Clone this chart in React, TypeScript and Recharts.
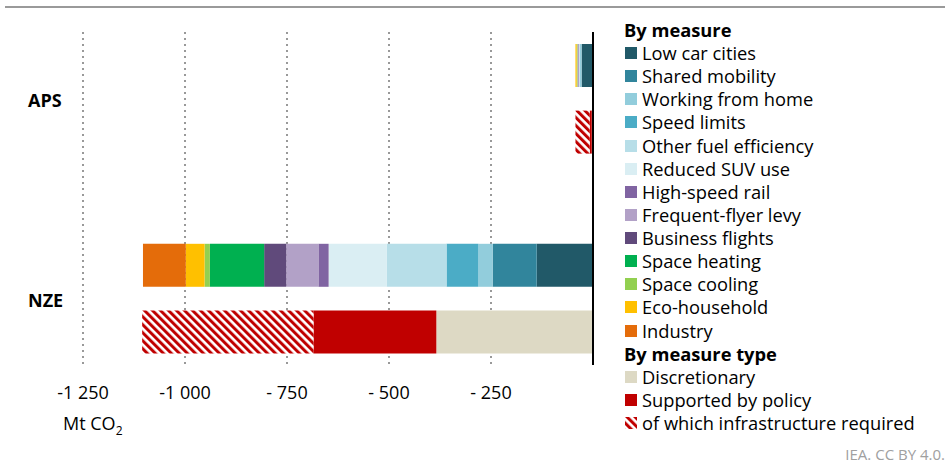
import React from 'react';
import { BarChart, Bar, XAxis, YAxis, CartesianGrid, ReferenceLine } from 'recharts';

const categories = ['APS', 'APS_type', 'gap', 'NZE', 'NZE_type'];
const categoryLabels: Record<string, string> = { APS: 'APS', NZE: 'NZE' };

const measureNames = [
  'Low car cities',
  'Shared mobility',
  'Working from home',
  'Speed limits',
  'Other fuel efficiency',
  'Reduced SUV use',
  'High-speed rail',
  'Frequent-flyer levy',
  'Business flights',
  'Space heating',
  'Space cooling',
  'Eco-household',
  'Industry',
];
const measureColors = [
  '#215968',
  '#31859c',
  '#92cddc',
  '#4bacc6',
  '#b7dee8',
  '#daeef3',
  '#8064a2',
  '#b2a1c7',
  '#604a7b',
  '#00b050',
  '#92d050',
  '#ffc000',
  '#e46c0a',
];
const apsMeasures = [-28, 0, -5, 0, 0, -1, 0, -4, 0, 0, -2, -3, 0];
const nzeMeasures = [-138, -108, -35, -78, -147, -142, -25, -79, -54, -133, -13, -46, -105];

const typeNames = ['Discretionary', 'Supported by policy', 'of which infrastructure required'];
const typeColors = ['#ddd9c4', '#c00000', 'url(#hatchRed)'];
const apsTypes = [-3, -5, -35];
const nzeTypes = [-384, -301, -420];

const xTicks = [-1250, -1000, -750, -500, -250, 0];
const xTickLabels = ['-1 250', '-1 000', '- 750', '- 500', '- 250', ''];

const FONT = '"Open Sans", Lato, sans-serif';
const FS = 18;
const LFS = 18.3;

const buildRow = (cat: string, measures: number[] | null, types: number[] | null) => {
  const row: Record<string, any> = { cat };
  if (measures) measures.forEach((v, i) => (row['m' + i] = v));
  if (types) types.forEach((v, i) => (row['t' + i] = v));
  return row;
};

const data = [
  buildRow(categories[0], apsMeasures, null),
  buildRow(categories[1], null, apsTypes),
  buildRow(categories[2], null, null),
  buildRow(categories[3], nzeMeasures, null),
  buildRow(categories[4], null, nzeTypes),
];

const CategoryTick = (props: any) => {
  const { y, payload } = props;
  const label = categoryLabels[payload.value];
  if (!label) return null;
  return (
    <text
      x={28}
      y={y + 35}
      textAnchor="start"
      dominantBaseline="central"
      style={{ fontFamily: FONT, fontSize: FS, fontWeight: 700, fill: '#000' }}
    >
      {label}
    </text>
  );
};

const UnitLabel = () => (
  <text x={63} y={430} style={{ fontFamily: FONT, fontSize: FS, fill: '#000' }}>
    Mt CO<tspan fontSize={12} dy={5}>2</tspan>
  </text>
);

const ROW_H = 23.12;
const LEGEND_TOP = 30;

const Swatch = ({ color }: { color: string }) => (
  <svg width={12} height={12} style={{ position: 'absolute', left: 1, top: 6 }}>
    <rect x={0} y={0} width={12} height={12} fill={color} />
  </svg>
);

const LegendBlock = () => {
  const rows: { kind: 'head' | 'item'; text: string; color?: string }[] = [];
  rows.push({ kind: 'head', text: 'By measure' });
  measureNames.forEach((n, i) => rows.push({ kind: 'item', text: n, color: measureColors[i] }));
  rows.push({ kind: 'head', text: 'By measure type' });
  typeNames.forEach((n, i) => rows.push({ kind: 'item', text: n, color: typeColors[i] }));
  return (
    <div style={{ position: 'absolute', left: 624, top: 0, width: 326, height: 465, fontFamily: FONT }}>
      {rows.map((r, i) => (
        <div
          key={i}
          style={{
            position: 'absolute',
            left: 0,
            top: LEGEND_TOP + i * ROW_H - 12,
            height: 24,
            lineHeight: '24px',
            whiteSpace: 'nowrap',
            fontSize: LFS,
            fontWeight: r.kind === 'head' ? 700 : 400,
            color: '#000',
          }}
        >
          {r.kind === 'item' ? (
            <>
              <Swatch color={r.color as string} />
              <span style={{ marginLeft: 18 }}>{r.text}</span>
            </>
          ) : (
            r.text
          )}
        </div>
      ))}
    </div>
  );
};

export default function App() {
  return (
    <div style={{ position: 'absolute', left: 0, top: 0, width: 950, height: 465, background: '#fff', overflow: 'hidden' }}>
      <svg width={0} height={0} style={{ position: 'absolute' }}>
        <defs>
          <pattern
            id="hatchRed"
            width={5.66}
            height={5.66}
            patternUnits="userSpaceOnUse"
            patternTransform="rotate(-45)"
          >
            <rect x={0} y={0} width={5.66} height={5.66} fill="#ffffff" />
            <rect x={0} y={0} width={3} height={5.66} fill="#c00000" />
          </pattern>
        </defs>
      </svg>
      <div style={{ position: 'absolute', left: 5, top: 6, width: 940, height: 2, background: '#9a9a9a' }} />
      <div style={{ position: 'absolute', left: 0, top: 0 }}>
        <BarChart
          width={950}
          height={465}
          data={data}
          layout="vertical"
          stackOffset="sign"
          margin={{ top: 32, right: 357, left: 8, bottom: 70 }}
        >
          <CartesianGrid horizontal={false} stroke="#999" strokeWidth={2} strokeDasharray="2 4" />
          <XAxis
            type="number"
            domain={[-1250, 0]}
            ticks={xTicks}
            tickFormatter={(v: number) => xTickLabels[xTicks.indexOf(v)] ?? ''}
            axisLine={false}
            tickLine={false}
            tickMargin={15}
            height={30}
            interval={0}
            tick={{ fontFamily: FONT, fontSize: FS, fill: '#000' }}
            label={<UnitLabel />}
          />
          <YAxis
            type="category"
            dataKey="cat"
            width={75}
            axisLine={false}
            tickLine={false}
            tick={<CategoryTick />}
          />
          {measureNames.map((n, i) => (
            <Bar
              key={'m' + i}
              dataKey={'m' + i}
              name={n}
              stackId="a"
              fill={measureColors[i]}
              barSize={43}
              isAnimationActive={false}
            />
          ))}
          {typeNames.map((n, i) => (
            <Bar
              key={'t' + i}
              dataKey={'t' + i}
              name={n}
              stackId="a"
              fill={typeColors[i]}
              barSize={43}
              isAnimationActive={false}
            />
          ))}
          <ReferenceLine x={0} stroke="#000" strokeWidth={2} />
        </BarChart>
      </div>
      <LegendBlock />
      <div
        style={{
          position: 'absolute',
          right: 5,
          top: 444,
          fontFamily: FONT,
          fontSize: 15,
          color: '#a0a0a0',
          whiteSpace: 'nowrap',
        }}
      >
        IEA. CC BY 4.0.
      </div>
    </div>
  );
}
